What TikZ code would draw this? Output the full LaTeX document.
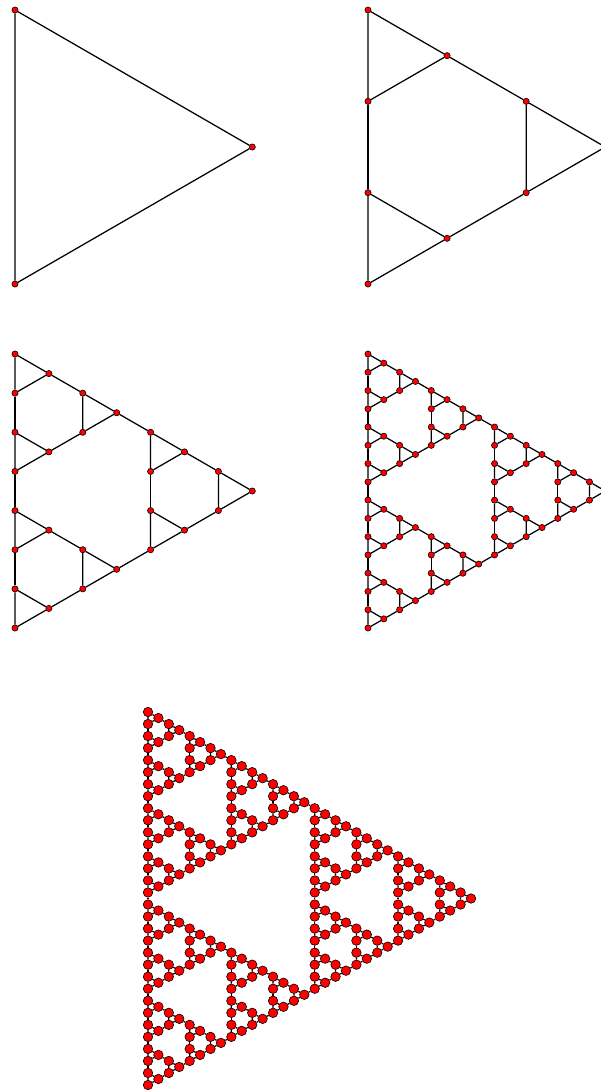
\documentclass[tikz,border=0pt]{standalone}
\usepackage{tikz}
\definecolor{VertRed}{HTML}{FF0000}

% #1 block size 2^k, #2 #3 grid position, #4 graph name
\newcommand\hanoi[4]{%
  \ifnum#1=1
    \edef\ha{\the\numexpr#2+1\relax}\edef\hb{\the\numexpr#3+1\relax}%
    \node[vert] (#4-#2-#3) at ({\hx*#2},{\hl*(#2/2+#3)}) {};
    \node[vert] (#4-\ha-#3) at ({\hx*\ha},{\hl*(\ha/2+#3)}) {};
    \node[vert] (#4-#2-\hb) at ({\hx*#2},{\hl*(#2/2+\hb)}) {};
    \draw[edge] (#4-#2-#3) -- (#4-\ha-#3) -- (#4-#2-\hb) -- (#4-#2-#3);
  \else
    \edef\hnext{%
      \noexpand\hanoi{\the\numexpr#1/2\relax}{#2}{#3}{#4}%
      \noexpand\hanoi{\the\numexpr#1/2\relax}{\the\numexpr#2+#1\relax}{#3}{#4}%
      \noexpand\hanoi{\the\numexpr#1/2\relax}{#2}{\the\numexpr#3+#1\relax}{#4}}%
    \hnext
    \edef\ha{\the\numexpr#2+#1\relax}\edef\hA{\the\numexpr#2+#1-1\relax}%
    \edef\hb{\the\numexpr#3+#1\relax}\edef\hB{\the\numexpr#3+#1-1\relax}%
    \draw[edge] (#4-\hA-#3) -- (#4-\ha-#3);
    \draw[edge] (#4-#2-\hB) -- (#4-#2-\hb);
    \draw[edge] (#4-\ha-\hB) -- (#4-\hA-\hb);
  \fi}

\begin{document}
\begin{tikzpicture}[
    x=1pt, y=-1pt,
    vert/.style={circle, draw=black, line width=0.6pt, fill=VertRed,
                 inner sep=0pt, minimum size=6.2pt},
    edge/.style={draw=black, line width=1.25pt},
  ]
  \useasboundingbox (0,0) rectangle (601,1090);
  % level 0
  \begin{scope}[shift={(15,10)}]
    \def\hl{274}\pgfmathsetmacro\hx{\hl*sqrt(3)/2}
    \hanoi{1}{0}{0}{g0}
  \end{scope}
  % level 1
  \begin{scope}[shift={(368,10)}]
    \pgfmathsetmacro\hl{274/3}\pgfmathsetmacro\hx{\hl*sqrt(3)/2}
    \hanoi{2}{0}{0}{g1}
  \end{scope}
  % level 2
  \begin{scope}[shift={(15,354)}]
    \pgfmathsetmacro\hl{274/7}\pgfmathsetmacro\hx{\hl*sqrt(3)/2}
    \hanoi{4}{0}{0}{g2}
  \end{scope}
  % level 3
  \begin{scope}[shift={(368,354)}]
    \pgfmathsetmacro\hl{274/15}\pgfmathsetmacro\hx{\hl*sqrt(3)/2}
    \hanoi{8}{0}{0}{g3}
  \end{scope}
  % level 4
  \begin{scope}[shift={(148,712)}, vert/.append style={minimum size=9.5pt}]
    \pgfmathsetmacro\hl{373/31}\pgfmathsetmacro\hx{\hl*sqrt(3)/2}
    \hanoi{16}{0}{0}{g4}
  \end{scope}
\end{tikzpicture}
\end{document}
